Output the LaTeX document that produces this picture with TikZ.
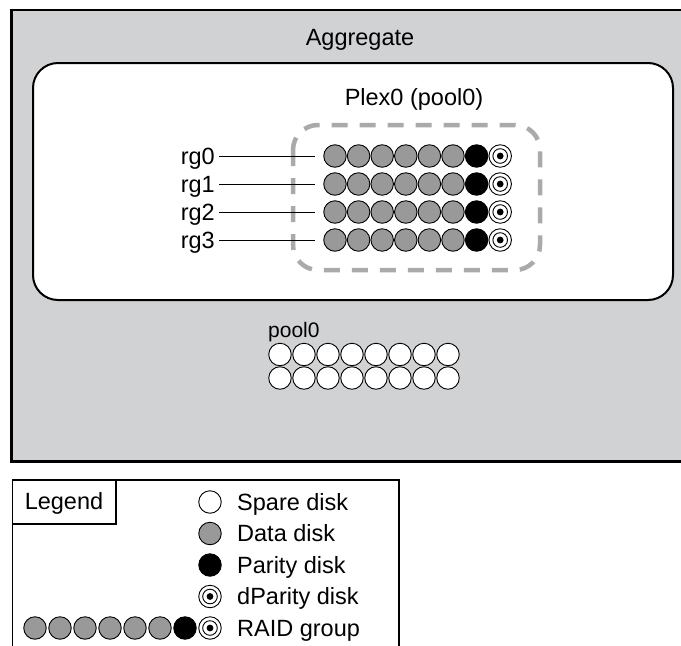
\documentclass[tikz,border=0pt]{standalone}
\usepackage{fontspec}
\setmainfont{Liberation Sans}
\usetikzlibrary{positioning}
\definecolor{aggrgray}{RGB}{209,210,212}
\definecolor{datagray}{RGB}{153,153,153}
\definecolor{plexgray}{RGB}{170,170,172}

\begin{document}
\begin{tikzpicture}[
        x=1pt, y=-1pt,
        every node/.style={inner sep=0pt, font=\fontsize{23.5}{28}\selectfont},
        disk/.style={circle, draw, line width=0.9pt, minimum size=22.5pt},
        spare/.style={disk, fill=white},
        data/.style={disk, fill=datagray},
        parity/.style={disk, fill=black},
        dparity/.style={disk, fill=white, path picture={
                    \draw[black, line width=0.9pt] (path picture bounding box.center) circle (7.3pt);
                    \fill[black] (path picture bounding box.center) circle (3.4pt);}},
        plexbox/.style={draw=plexgray, line width=4.5pt, dash pattern=on 16pt off 12pt, rounded corners=25pt}
    ]
    \useasboundingbox (0,0) rectangle (681,646);

    % aggregate
    \fill[aggrgray] (11.7,10) rectangle (681,461.7);
    \draw[line width=2.7pt] (681,10) -- (11.7,10) -- (11.7,461.7) -- (681,461.7);
    \node[anchor=base] (aggrlabel) at (360,45) {Aggregate};
    \draw[line width=2pt, fill=white, rounded corners=25pt] (33,63) rectangle (673,300);

    % plex
    \draw[plexbox] (293,125) rectangle (540,270);
    \node[anchor=base] (plexlabel) at (414,105) {Plex0 (pool0)};
    \foreach \r in {0,...,3} {
        \foreach \i/\kind in {1/data,2/data,3/data,4/data,5/data,6/data,7/parity,8/dparity}
            \node[\kind] (d\r-\i) at ({335+23.6*(\i-1)},{156+28*\r}) {};
        \node[anchor=base east] (rg\r) at (215,{164+28*\r}) {rg\r};
        \draw[line width=1pt, shorten <=4pt, shorten >=8pt] (rg\r.east |- d\r-1) -- (d\r-1);
    }

    % spares
    \node[anchor=base west, font=\fontsize{21}{25}\selectfont] (poollabel) at (268,337) {pool0};
    \foreach \r in {1,2}
        \foreach \i in {1,...,8}
            \node[spare] (p\r-\i) at ({280+24*(\i-1)},{331+23.5*\r}) {};

    % legend
    \draw[line width=1.3pt] (12.7,650) -- (12.7,480) -- (399,480) -- (399,650);
    \draw[line width=1.3pt] (12.7,524) -| (116,480);
    \node[anchor=base] (legendlabel) at (64,509) {Legend};
    \foreach \kind/\txt [count=\n] in {spare/Spare disk, data/Data disk, parity/Parity disk, dparity/dParity disk} {
        \node[\kind] (key\n) at (210,{502+31.5*(\n-1)}) {};
        \node[anchor=base west] (keytext\n) at (237,{510+31.5*(\n-1)}) {\txt};
    }
    \foreach \i/\kind in {1/data,2/data,3/data,4/data,5/data,6/data,7/parity,8/dparity}
        \node[\kind] (raid\i) at ({35+25*(\i-1)},628) {};
    \node[anchor=base west] (raidtext) at (237,636) {RAID group};
\end{tikzpicture}
\end{document}
